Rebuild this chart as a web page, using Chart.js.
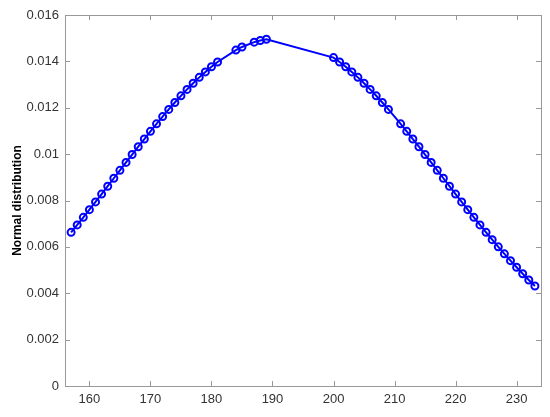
<!DOCTYPE html>
<html>
<head>
<meta charset="utf-8">
<script src="https://cdn.jsdelivr.net/npm/chart.js@4"></script>
<style>
  html, body { margin: 0; padding: 0; background: #fff; }
  #wrap { width: 550px; height: 417px; }
</style>
</head>
<body>
<div id="wrap"><canvas id="myChart" width="550" height="417"></canvas></div>
<script>
// datos
const xValues = [
  157, 158, 159, 160, 161, 162, 163, 164, 165, 166, 167, 168, 169,
  170, 171, 172, 173, 174, 175, 176, 177, 178, 179, 180, 181,
  184, 185, 187, 188, 189,
  200, 201, 202, 203, 204, 205, 206, 207, 208, 209,
  211, 212, 213, 214, 215, 216, 217, 218, 219, 220, 221, 222,
  223, 224, 225, 226, 227, 228, 229, 230, 231, 232, 233
];
const yValues = [
  0.006626, 0.006947, 0.007274, 0.007605, 0.007939, 0.008277, 0.008617, 0.008959, 0.009301,
  0.009643, 0.009982, 0.010319, 0.010652, 0.010982, 0.011305, 0.011620, 0.011927, 0.012227,
  0.012515, 0.012792, 0.013058, 0.013310, 0.013545, 0.013769, 0.013974,
  0.014487, 0.014621, 0.014829, 0.014902, 0.014955,
  0.014163, 0.013974, 0.013769, 0.013545, 0.013310, 0.013058, 0.012792, 0.012515, 0.012227, 0.011927,
  0.011305, 0.010982, 0.010652, 0.010319, 0.009982, 0.009643, 0.009301, 0.008959, 0.008617,
  0.008277, 0.007939, 0.007605, 0.007274, 0.006947, 0.006626, 0.006311, 0.006002, 0.005700,
  0.005405, 0.005120, 0.004841, 0.004572, 0.004312
];
const xTicks = [160, 170, 180, 190, 200, 210, 220, 230];
const yTicks = [0, 0.002, 0.004, 0.006, 0.008, 0.01, 0.012, 0.014, 0.016];
const yTitle = "Normal distribution";

const puntos = xValues.map((x, i) => ({ x: x, y: yValues[i] }));

const ejeColor = "#999999";
const textoColor = "#333333";

/* caja tipo matlab con ticks hacia adentro */
const caja = {
  id: "caja",
  beforeDatasetsDraw(chart) {
    const { ctx, chartArea: a, scales } = chart;
    const largo = 5;
    ctx.save();
    ctx.strokeStyle = ejeColor;
    ctx.lineWidth = 1;
    ctx.beginPath();
    xTicks.forEach((v) => {
      const px = Math.round(scales.x.getPixelForValue(v)) + 0.5;
      ctx.moveTo(px, a.bottom);
      ctx.lineTo(px, a.bottom - largo);
      ctx.moveTo(px, a.top);
      ctx.lineTo(px, a.top + largo);
    });
    yTicks.forEach((v) => {
      const py = Math.round(scales.y.getPixelForValue(v)) + 0.5;
      ctx.moveTo(a.left, py);
      ctx.lineTo(a.left + largo, py);
      ctx.moveTo(a.right, py);
      ctx.lineTo(a.right - largo, py);
    });
    ctx.stroke();
    ctx.strokeRect(Math.round(a.left) + 0.5, Math.round(a.top) + 0.5,
      Math.round(a.right - a.left), Math.round(a.bottom - a.top));
    ctx.restore();
  },
};

const canvas = document.getElementById("myChart");
const config = {
  type: "scatter",
  data: {
    datasets: [
      {
        data: puntos,
        showLine: true,
        borderColor: "#0000ff",
        borderWidth: 2,
        pointRadius: 3.5,
        pointBorderWidth: 2,
        pointBorderColor: "#0000ff",
        pointBackgroundColor: "rgba(0,0,0,0)",
        tension: 0,
      },
    ],
  },
  options: {
    responsive: false,
    animation: false,
    layout: { padding: { left: 0, top: 15, right: 9, bottom: 0 } },
    plugins: { legend: { display: false }, tooltip: { enabled: false } },
    scales: {
      x: {
        type: "linear",
        min: 156,
        max: 234,
        afterBuildTicks: (eje) => {
          eje.ticks = xTicks.map((v) => ({ value: v }));
        },
        afterFit: (eje) => {
          eje.height = 31;
        },
        grid: { display: false, drawTicks: false },
        border: { display: false },
        ticks: {
          padding: 6,
          color: textoColor,
          font: { family: "Liberation Sans, Arial, sans-serif", size: 13 },
          maxRotation: 0,
        },
      },
      y: {
        type: "linear",
        min: 0,
        max: 0.016,
        afterBuildTicks: (eje) => {
          eje.ticks = yTicks.map((v) => ({ value: v }));
        },
        afterFit: (eje) => {
          eje.width = 65;
        },
        grid: { display: false, drawTicks: false },
        border: { display: false },
        ticks: {
          padding: 6,
          color: textoColor,
          font: { family: "Liberation Sans, Arial, sans-serif", size: 13 },
          callback: (v) => String(+Number(v).toFixed(3)),
        },
        title: {
          display: true,
          text: yTitle,
          color: "#000000",
          padding: { top: 10, bottom: 0 },
          font: { family: "Liberation Sans, Arial, sans-serif", size: 12, weight: "bold" },
        },
      },
    },
  },
  plugins: [caja],
};

new Chart(canvas, config);
</script>
</body>
</html>
